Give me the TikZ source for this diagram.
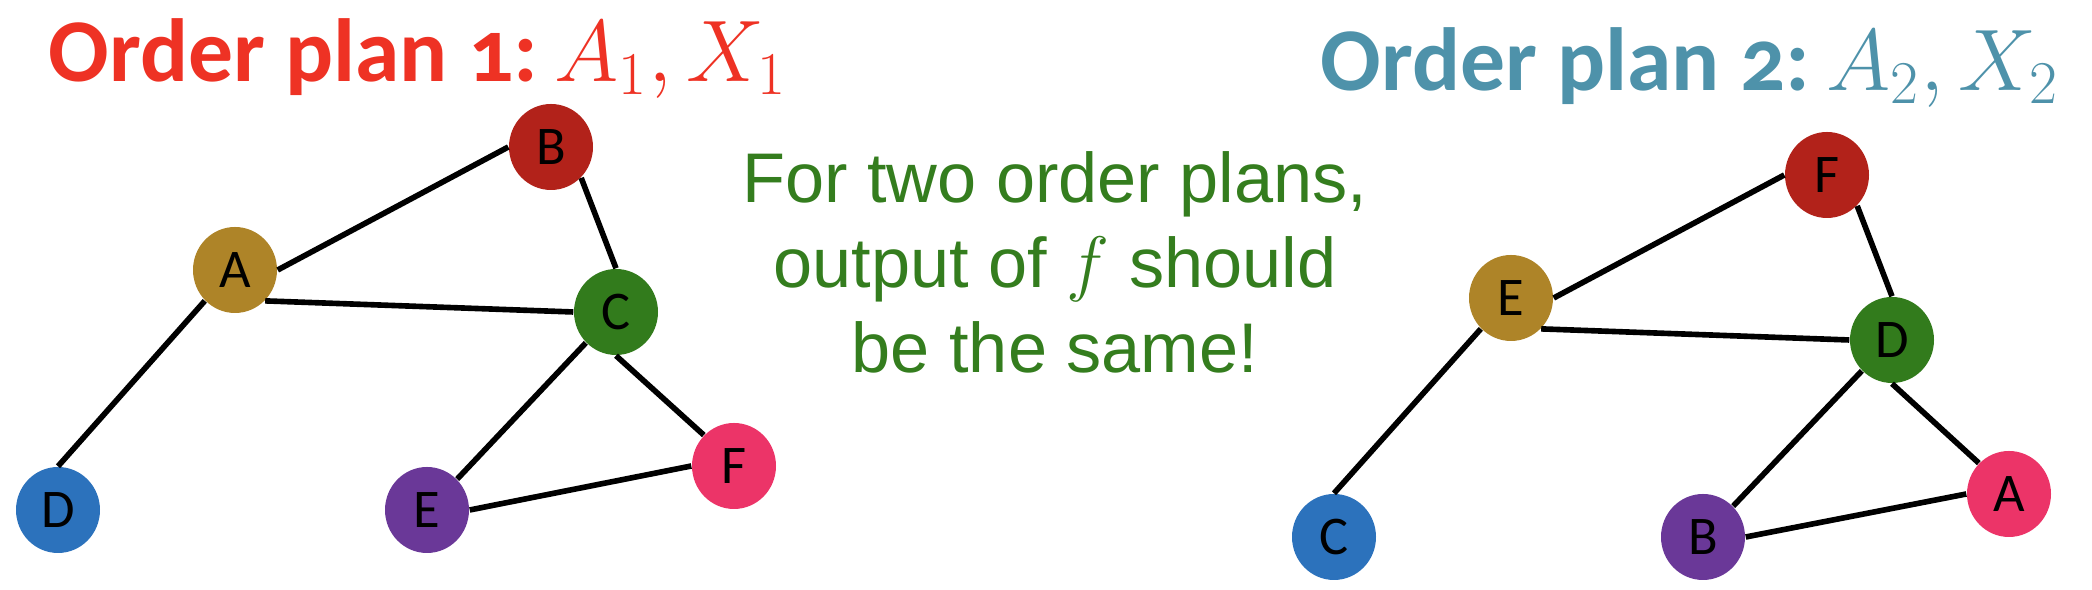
\documentclass[tikz,border=0pt]{standalone}
\usepackage{fontspec}
\usetikzlibrary{shapes,positioning}
\newfontfamily\calibri{Carlito}
\newfontfamily\calibrinum[Numbers=OldStyle]{Carlito}
\newfontfamily\arial{Liberation Sans}
\definecolor{planred}{RGB}{238,50,36}
\definecolor{planteal}{RGB}{78,146,170}
\definecolor{msggreen}{RGB}{52,125,30}
\definecolor{ngold}{RGB}{174,132,40}
\definecolor{nred}{RGB}{178,34,26}
\definecolor{ngreen}{RGB}{50,123,28}
\definecolor{nblue}{RGB}{44,114,188}
\definecolor{npurple}{RGB}{106,56,152}
\definecolor{npink}{RGB}{236,52,104}

\begin{document}
\begin{tikzpicture}[
    vertex/.style={ellipse,minimum width=0.84cm,minimum height=0.86cm,inner sep=0pt,font={\calibri\fontsize{15.5}{17}\selectfont}},
    heading/.style={anchor=base west,inner sep=0pt,font={\calibrinum\bfseries\fontsize{25.5}{30}\selectfont}},
    edge/.style={line width=1.6pt}]
    \useasboundingbox (0,0) rectangle (20.92,5.9);
    % titles
    \node[heading,text=planred] (title1) at (0.48,5.083) {Order plan 1:\hspace{-0.12em} $A_1, X_1$};
    \node[heading,text=planteal] (title2) at (13.20,4.993) {Order plan 2:\hspace{-0.12em} $A_2, X_2$};
    \node[align=center,anchor=north,inner sep=0pt,text=msggreen,font={\arial\fontsize{20}{24.2}\selectfont}] (msg) at (10.55,4.393) {For two order plans,\\ output of $f$ should\\ be the same!};
    % plan 1
    \node[vertex,fill=ngold] (a1) at (2.35,3.20) {A};
    \node[vertex,fill=nred] (b1) at (5.51,4.43) {B};
    \node[vertex,fill=ngreen] (c1) at (6.16,2.78) {C};
    \node[vertex,fill=nblue] (d1) at (0.58,0.80) {D};
    \node[vertex,fill=npurple] (e1) at (4.27,0.80) {E};
    \node[vertex,fill=npink] (f1) at (7.34,1.24) {F};
    \draw[edge] (a1.east) -- (b1.west);
    \draw[edge] (b1.south east) -- (c1.north);
    \draw[edge] (a1.south east) -- (c1.west);
    \draw[edge] (a1.south west) -- (d1.north);
    \draw[edge] (c1.south west) -- (e1.north east);
    \draw[edge] (c1.south) -- (f1.north west);
    \draw[edge] (e1.east) -- (f1.west);
    % plan 2
    \node[vertex,fill=ngold] (e2) at (15.11,2.92) {E};
    \node[vertex,fill=nred] (f2) at (18.27,4.15) {F};
    \node[vertex,fill=ngreen] (d2) at (18.92,2.50) {D};
    \node[vertex,fill=nblue] (c2) at (13.34,0.53) {C};
    \node[vertex,fill=npurple] (b2) at (17.03,0.53) {B};
    \node[vertex,fill=npink] (a2) at (20.09,0.96) {A};
    \draw[edge] (e2.east) -- (f2.west);
    \draw[edge] (f2.south east) -- (d2.north);
    \draw[edge] (e2.south east) -- (d2.west);
    \draw[edge] (e2.south west) -- (c2.north);
    \draw[edge] (d2.south west) -- (b2.north east);
    \draw[edge] (d2.south) -- (a2.north west);
    \draw[edge] (b2.east) -- (a2.west);
\end{tikzpicture}
\end{document}
